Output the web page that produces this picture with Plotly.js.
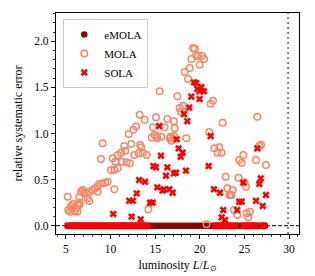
<!DOCTYPE html>
<html>
<head>
<meta charset="utf-8">
<script src="https://cdn.plot.ly/plotly-3.0.1.min.js"></script>
<style>html,body{margin:0;padding:0;background:#fff;}#chart{width:315px;height:276px;}</style>
</head>
<body>
<div id="chart"></div>
<script>
// eMOLA: all at zero along the luminosity range
const emolaX = [5.2,5.5,5.8,6.1,6.4,6.7,7.0,7.3,7.6,7.9,8.2,8.5,8.8,9.1,9.4,9.7,10.0,10.3,10.6,10.9,11.2,11.5,11.8,12.1,12.4,12.7,13.0,13.3,13.6,13.9,14.2,14.5,14.8,15.1,15.4,15.7,16.0,16.3,16.6,16.9,17.2,17.5,17.8,18.1,18.4,18.7,19.0,19.3,19.6,19.9,20.2,20.5,20.8,21.1,21.4,21.7,22.0,22.3,22.6,22.9,23.2,23.5,23.8,24.1,24.4,24.7,25.0,25.3,25.6,25.9,26.2,26.5,26.8,27.1,27.3];
const emolaY = [0,0,0,0,0,0,0,0,0,0,0,0,0,0,0,0,0,0,0,0,0,0,0,0,0,0,0,0,0,0,0,0,0,0,0,0,0,0,0,0,0,0,0,0,0,0,0,0,0,0,0,0,0,0,0,0,0,0,0,0,0,0,0,0,0,0,0,0,0,0,0,0,0,0,0];

// MOLA
const molaX = [5.19,5.26,5.45,5.56,5.64,5.82,6.0,6.12,6.27,6.3,6.49,6.49,6.55,6.68,6.87,7.0,7.24,7.43,7.61,7.61,7.99,8.29,8.55,8.55,8.73,9.11,9.41,9.67,8.92,9.11,10.42,10.05,10.42,10.8,10.24,10.53,10.8,11.17,11.28,11.8,12.17,11.54,11.65,12.32,12.03,12.55,12.85,12.66,13.15,13.3,13.6,14.04,13.44,14.23,13.26,13.82,14.6,14.75,14.94,15.17,15.24,15.68,15.09,15.5,16.06,16.36,16.63,16.8,16.74,17.1,17.1,17.18,17.48,17.74,17.86,18.12,18.49,18.31,18.68,18.87,19.05,19.24,19.43,19.6,19.8,20.25,20.47,19.98,21.22,21.48,21.06,22.56,21.62,22.19,22.0,22.45,22.9,23.09,23.69,23.31,23.45,23.57,23.83,24.2,24.35,24.42,24.69,24.88,24.99,25.18,25.26,25.63,25.44,26.3,26.45,26.67,26.86,27.42,20.75];
const molaY = [0.315,0.17,0.152,0.214,0.189,0.235,0.16,0.189,0.152,0.224,0.308,0.224,0.25,0.369,0.387,0.36,0.351,0.297,0.268,0.369,0.387,0.405,0.423,0.369,0.452,0.46,0.466,0.477,0.723,0.894,0.395,0.604,0.604,0.623,0.731,0.694,0.767,0.792,0.694,0.688,0.677,0.864,0.813,0.886,0.995,1.04,1.075,0.767,0.785,0.875,0.792,0.767,0.85,0.178,1.204,1.15,0.958,1.067,0.984,0.973,0.948,0.965,1.176,1.457,1.067,1.157,0.948,0.922,0.965,0.973,1.132,1.056,1.403,1.277,1.24,1.301,0.948,1.667,1.59,1.71,1.808,1.927,1.92,1.855,1.837,1.844,1.808,1.746,1.323,1.356,1.016,1.117,0.839,0.85,0.792,0.792,0.531,0.405,0.387,0.333,0.33,0.333,0.17,0.116,0.521,0.713,0.683,0.767,0.471,0.423,0.135,0.152,0.091,0.713,1.182,0.864,0.879,0.658,0.015];

// SOLA
const solaX = [10.3,12.1,12.5,12.36,12.92,13.2,13.37,13.86,14.42,14.72,14.8,15.09,15.24,15.46,15.65,15.83,15.98,16.21,16.36,16.58,16.96,17.1,17.33,17.41,17.63,18.08,17.86,18.45,18.23,18.6,18.82,19.05,19.35,19.6,19.72,19.98,20.17,20.47,19.98,20.99,21.22,21.59,22.26,22.63,22.45,22.83,24.2,24.42,24.69,24.88,26.3,26.45,26.67,26.83,27.05,27.42,
  5.2,5.5,5.8,6.1,6.4,6.7,7.0,7.3,7.6,7.9,8.2,8.5,8.8,9.1,9.4,9.7,10.0,10.3,10.6,10.9,11.2,11.5,11.8,12.1,12.4,12.7,13.0,13.3,13.6,13.9,14.2,21.75,21.95,22.2,22.5,22.8,23.05,23.25,23.8,24.0,24.9,25.1,25.4,25.7,25.95,26.2,26.95,27.2];
const solaY = [0.127,0.271,0.271,0.098,0.351,0.496,0.069,0.477,0.25,0.25,0.647,0.633,0.416,1.081,0.759,0.38,0.395,0.542,0.633,0.395,0.358,0.568,0.575,0.937,0.839,0.792,0.748,0.597,1.211,1.135,1.28,1.4,1.555,1.548,1.483,1.457,1.504,1.457,1.374,0.647,0.973,0.395,0.358,0.17,0.091,0.062,0.17,0.26,0.26,0.467,0.271,0.839,0.452,0.514,0.214,0.333,
  0,0,0,0,0,0,0,0,0,0,0,0,0,0,0,0,0,0,0,0,0,0,0,0,0,0,0,0,0,0,0,0,0,0,0,0,0,0,0,0,0,0,0,0,0,0,0,0];

const xTicks = [5,10,15,20,25,30];
const yTicks = [0.0,0.5,1.0,1.5,2.0];

const serif = "Liberation Serif, Times New Roman, serif";

const traces = [
  {x: emolaX, y: emolaY, name: 'eMOLA', type: 'scatter', mode: 'markers',
   marker: {symbol: 'circle', size: 6.5, color: '#8b0000'}},
  {x: molaX, y: molaY, name: 'MOLA', type: 'scatter', mode: 'markers',
   marker: {symbol: 'circle-open', size: 6.5, color: '#fb8563', line: {width: 1.5, color: '#fb8563'}}},
  {x: solaX, y: solaY, name: 'SOLA', type: 'scatter', mode: 'markers',
   marker: {symbol: 'x', size: 6.5, color: '#ff0000', line: {width: 0}}}
];

const layout = {
  width: 315, height: 276,
  margin: {l: 56, r: 16, t: 13, b: 42},
  paper_bgcolor: '#fff', plot_bgcolor: '#fff',
  font: {family: serif, size: 12, color: '#000'},
  showlegend: true,
  legend: {x: 0.03, y: 0.973, xanchor: 'left', yanchor: 'top',
           bgcolor: 'rgba(255,255,255,0.9)', bordercolor: '#cccccc', borderwidth: 1,
           font: {family: serif, size: 11, color: '#000'}, tracegroupgap: 0, itemwidth: 30},
  xaxis: {range: [3.88, 31.12], tickvals: xTicks, ticktext: xTicks.map(String),
          ticks: 'outside', ticklen: 4, tickwidth: 1, tickcolor: '#000',
          minor: {dtick: 1, tick0: 0, ticks: 'outside', ticklen: 2, tickwidth: 0.8, tickcolor: '#000'},
          showline: true, linecolor: '#000', linewidth: 1.2, mirror: true,
          showgrid: false, zeroline: false,
          tickfont: {family: serif, size: 11.5},
          title: {text: 'luminosity <i>L</i>/<i>L</i><sub>⊙</sub>', font: {family: serif, size: 12}, standoff: 6}},
  yaxis: {range: [-0.09, 2.307], tickvals: yTicks, ticktext: ['0.0','0.5','1.0','1.5','2.0'],
          ticks: 'outside', ticklen: 4, tickwidth: 1, tickcolor: '#000',
          minor: {dtick: 0.1, tick0: 0, ticks: 'outside', ticklen: 2, tickwidth: 0.8, tickcolor: '#000'},
          showline: true, linecolor: '#000', linewidth: 1.2, mirror: true,
          showgrid: false, zeroline: false,
          tickfont: {family: serif, size: 11.5},
          title: {text: 'relative systematic error', font: {family: serif, size: 12}, standoff: 9}},
  shapes: [
    {type: 'line', xref: 'paper', yref: 'y', x0: 0, x1: 1, y0: 0, y1: 0, layer: 'below',
     line: {color: '#000', width: 1, dash: '4px,2px'}},
    {type: 'line', xref: 'x', yref: 'paper', x0: 29.9, x1: 29.9, y0: 0, y1: 1, layer: 'below',
     line: {color: '#808080', width: 2, dash: '2px,3px'}}
  ]
};

Plotly.newPlot('chart', traces, layout, {displayModeBar: false, staticPlot: true});
</script>
</body>
</html>
